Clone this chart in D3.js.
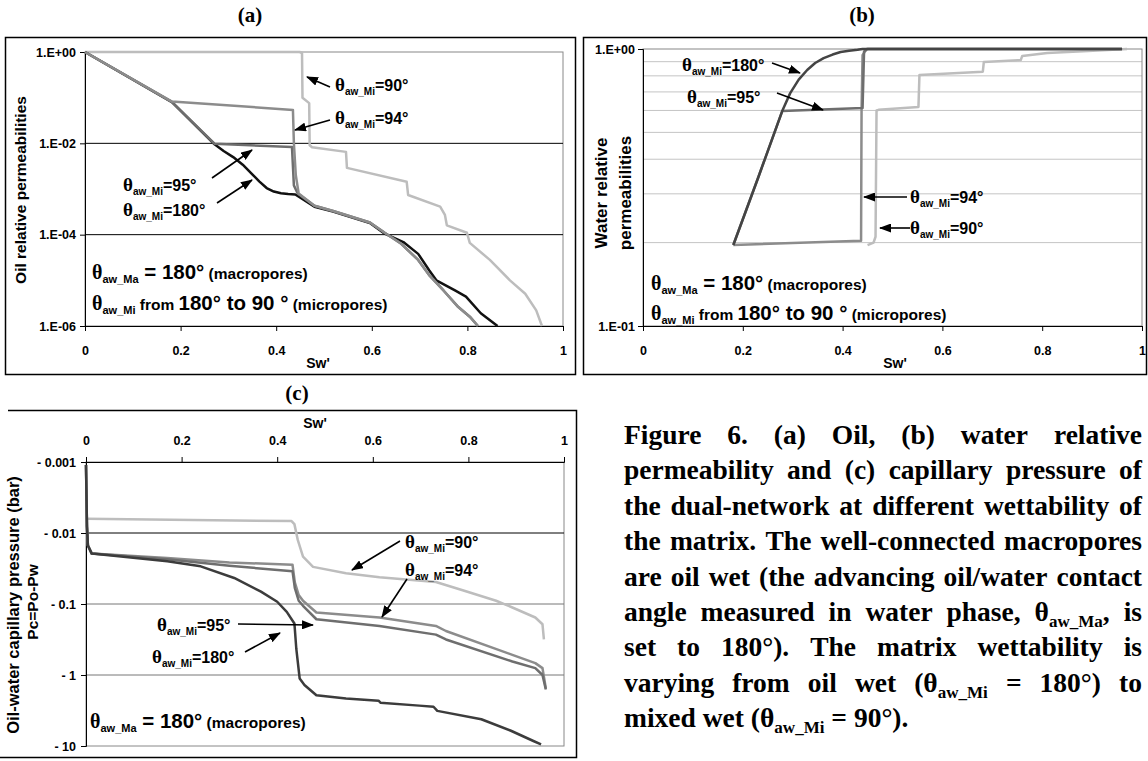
<!DOCTYPE html>
<html>
<head>
<meta charset="utf-8">
<script src="https://cdn.jsdelivr.net/npm/d3@7"></script>
<style>
body { margin: 0; background: #fff; }
</style>
</head>
<body>
<svg id="fig" width="1148" height="761" font-family="Liberation Sans, Arial, sans-serif" font-weight="bold"></svg>
<script>
// ---- data ----
var swTicks = [0, 0.2, 0.4, 0.6, 0.8, 1];
var swTickLabels = ['0', '0.2', '0.4', '0.6', '0.8', '1'];

// (a) oil relative permeability  [Sw', kro]
var kroTicks = [1, 1e-2, 1e-4, 1e-6];
var kroTickLabels = ['1.E+00', '1.E-02', '1.E-04', '1.E-06'];
var kro90 = [[0,1],[0.449,1],[0.454,0.95],[0.455,0.1],[0.469,7.6e-2],[0.470,9.1e-3],[0.475,8.2e-3],[0.546,6.5e-3],[0.548,2.9e-3],[0.673,1.44e-3],[0.676,7.4e-4],[0.743,4.1e-4],[0.753,2.7e-4],[0.757,1.6e-4],[0.799,1.1e-4],[0.805,6.6e-5],[0.847,2.8e-5],[0.889,1.0e-5],[0.921,5.1e-6],[0.944,2.2e-6],[0.956,1.0e-6]];
var kro180 = [[0,1],[0.182,8.0e-2],[0.271,9.5e-3],[0.29,6.8e-3],[0.31,5.0e-3],[0.33,3.4e-3],[0.35,2.1e-3],[0.365,1.45e-3],[0.38,1.05e-3],[0.395,8.8e-4],[0.41,8.1e-4],[0.425,7.8e-4],[0.44,7.6e-4],[0.48,4.1e-4],[0.519,3.2e-4],[0.596,1.8e-4],[0.627,1.05e-4],[0.666,6.9e-5],[0.697,3.8e-5],[0.72,1.66e-5],[0.735,1.0e-5],[0.774,6.0e-6],[0.797,4.4e-6],[0.828,1.9e-6],[0.863,1.0e-6]];
var kro95 = [[0,1],[0.182,8.0e-2],[0.271,9.8e-3],[0.433,8.3e-3],[0.437,1.2e-3],[0.445,8.0e-4],[0.48,4.3e-4],[0.519,3.3e-4],[0.596,1.85e-4],[0.627,1.1e-4],[0.66,6.5e-5],[0.697,2.8e-5],[0.72,1.3e-5],[0.75,6.0e-6],[0.781,2.6e-6],[0.805,1.6e-6],[0.822,1.0e-6]];
var kro94 = [[0,1],[0.182,8.2e-2],[0.435,5.4e-2],[0.437,1.0e-2],[0.441,2.0e-3],[0.447,8.0e-4],[0.48,4.3e-4],[0.519,3.3e-4],[0.596,1.85e-4],[0.627,1.1e-4],[0.66,6.5e-5],[0.697,2.8e-5],[0.72,1.3e-5],[0.75,6.0e-6],[0.781,2.6e-6],[0.805,1.6e-6],[0.822,1.0e-6]];

// (b) water relative permeability  [Sw', krw]
var krwTicks = [1, 0.1];
var krwTickLabels = ['1.E+00', '1.E-01'];
var krwGrid = [0.2, 0.3, 0.4, 0.5, 0.6, 0.7, 0.8, 0.9];
var krw90 = [[0.45,0.196],[0.462,0.2],[0.466,0.21],[0.468,0.6],[0.472,0.603],[0.552,0.618],[0.554,0.805],[0.681,0.828],[0.683,0.897],[0.757,0.912],[0.76,0.944],[0.81,0.968],[0.882,0.982],[0.97,1.0]];
var krw94 = [[0.181,0.196],[0.437,0.203],[0.438,0.6],[0.44,0.95],[0.448,1],[0.96,1]];
var krw95 = [[0.181,0.196],[0.23,0.34],[0.279,0.597],[0.44,0.612],[0.443,0.98],[0.45,1],[0.96,1]];
var krw180 = [[0.181,0.196],[0.23,0.34],[0.279,0.597],[0.295,0.693],[0.312,0.775],[0.329,0.84],[0.345,0.89],[0.362,0.927],[0.38,0.955],[0.396,0.975],[0.413,0.985],[0.43,0.993],[0.44,1],[0.96,1]];

// (c) capillary pressure  [Sw', Pc (bar)]
var pcTicks = [0.001, 0.01, 0.1, 1, 10];   // magnitudes of -Pc on the log axis
var pcTickLabels = ['- 0.001', '- 0.01', '- 0.1', '- 1', '- 10'];
var pc90 = [[0,-0.0063],[0.43,-0.0068],[0.436,-0.0075],[0.443,-0.0125],[0.454,-0.0215],[0.475,-0.030],[0.544,-0.037],[0.614,-0.042],[0.732,-0.049],[0.788,-0.064],[0.858,-0.09],[0.892,-0.112],[0.94,-0.155],[0.955,-0.193],[0.958,-0.316]];
var pc94 = [[0,-0.0011],[0.002,-0.008],[0.004,-0.015],[0.012,-0.0195],[0.17,-0.0225],[0.30,-0.026],[0.432,-0.028],[0.437,-0.05],[0.445,-0.075],[0.454,-0.09],[0.482,-0.132],[0.614,-0.155],[0.732,-0.204],[0.753,-0.24],[0.892,-0.52],[0.94,-0.68],[0.955,-0.80],[0.962,-1.55]];
var pc95 = [[0,-0.0011],[0.002,-0.008],[0.004,-0.015],[0.012,-0.0195],[0.17,-0.0235],[0.30,-0.029],[0.432,-0.0345],[0.437,-0.06],[0.445,-0.09],[0.454,-0.106],[0.482,-0.164],[0.614,-0.204],[0.732,-0.27],[0.753,-0.316],[0.892,-0.645],[0.94,-0.80],[0.955,-1.0],[0.962,-1.6]];
var pc180 = [[0,-0.0011],[0.002,-0.008],[0.004,-0.015],[0.012,-0.0195],[0.17,-0.025],[0.24,-0.0295],[0.31,-0.043],[0.366,-0.067],[0.40,-0.093],[0.42,-0.129],[0.436,-0.188],[0.44,-0.43],[0.447,-1.12],[0.457,-1.38],[0.482,-1.93],[0.544,-2.15],[0.612,-2.3],[0.616,-2.45],[0.697,-2.7],[0.727,-2.8],[0.735,-3.2],[0.827,-4.2],[0.889,-6.1],[0.936,-8.5],[0.952,-9.5]];

var captionLines = [
    'Figure 6. (a) Oil, (b) water relative',
    'permeability and (c) capillary pressure of',
    'the dual-network at different wettability of',
    'the matrix. The well-connected macropores',
    'are oil wet (the advancing oil/water contact',
    'angle measured in water phase, θ{aw_Ma}, is',
    'set to 180°). The matrix wettability is',
    'varying from oil wet (θ{aw_Mi} = 180°) to',
    'mixed wet (θ{aw_Mi} = 90°).'
];

var serif = '"Liberation Serif", "Times New Roman", serif';
var sans = '"Liberation Sans", Arial, sans-serif';

var svg = d3.select('#fig');

var defs = svg.append('defs');
defs.append('marker')
    .attr('id', 'arrow')
    .attr('markerUnits', 'userSpaceOnUse')
    .attr('viewBox', '0 0 12 9')
    .attr('markerWidth', 12)
    .attr('markerHeight', 9)
    .attr('refX', 11)
    .attr('refY', 4.5)
    .attr('orient', 'auto')
    .append('path')
    .attr('d', 'M0,0 L12,4.5 L0,9 Z')
    .attr('fill', '#000');

// helpers
function styleAxis(g) {
    g.attr('font-family', null).attr('font-size', null);
    g.select('.domain').attr('stroke', '#000').attr('stroke-width', 1);
    g.selectAll('.tick line').attr('stroke', '#000');
    g.selectAll('.tick text').style('font-size', '12.5px').style('font-family', sans).style('font-weight', 'bold').attr('fill', '#000');
}

function drawSeries(g, data, x, y, color) {
    var line = d3.line()
        .x(function(d){ return x(d[0]); })
        .y(function(d){ return y(d[1]); });
    g.append('path')
        .datum(data)
        .attr('d', line)
        .attr('fill', 'none')
        .attr('stroke', color)
        .attr('stroke-width', 2.5)
        .attr('stroke-linejoin', 'round');
}

// theta label: θ + subscript + rest parts [[text, size], ...]
function thetaText(g, x, y, sub, rest, thSize, subSize) {
    var t = g.append('text').attr('x', x).attr('y', y);
    t.append('tspan').style('font-family', serif).style('font-size', thSize + 'px').text('θ');
    t.append('tspan').style('font-size', subSize + 'px').attr('dy', 4).text(sub);
    rest.forEach(function(r, i){
        var ts = t.append('tspan').style('font-size', r[1] + 'px').text(r[0]);
        if (i == 0) ts.attr('dy', -4);
    });
    return t;
}

function arrow(g, x1, y1, x2, y2) {
    g.append('line')
        .attr('x1', x1).attr('y1', y1).attr('x2', x2).attr('y2', y2)
        .attr('stroke', '#000').attr('stroke-width', 1.6)
        .attr('marker-end', 'url(#arrow)');
}

function miLabel(g, x, y, deg) {
    return thetaText(g, x, y, 'aw_Mi', [['=' + deg + '°', 16]], 19, 10);
}

function panelTitle(x, y, s) {
    svg.append('text').attr('x', x).attr('y', y)
        .attr('text-anchor', 'middle')
        .style('font-family', serif)
        .style('font-size', '21px')
        .text(s);
}

function label(g, x, y, s, size, rot) {
    var t = g.append('text').attr('text-anchor', 'middle').style('font-size', size + 'px').text(s);
    if (rot) t.attr('transform', 'translate(' + x + ',' + y + ') rotate(-90)');
    else t.attr('x', x).attr('y', y);
    return t;
}

// ================= (a) =================
panelTitle(250, 22, '(a)');
svg.append('rect').attr('x', 5.5).attr('y', 37.5).attr('width', 570).attr('height', 337)
    .attr('fill', 'none').attr('stroke', '#000').attr('stroke-width', 1.5);

var gA = svg.append('g');
var xA = d3.scaleLinear().domain([0, 1]).range([85, 563]);
var yA = d3.scaleLog().domain([1e-6, 1]).range([326, 52]);

// plot frame + grid
gA.append('rect').attr('x', xA(0)).attr('y', yA(1)).attr('width', xA(1) - xA(0)).attr('height', yA(1e-6) - yA(1))
    .attr('fill', 'none').attr('stroke', '#888').attr('stroke-width', 1);
gA.selectAll('.grid').data([1e-2, 1e-4]).enter().append('line')
    .attr('x1', xA(0)).attr('x2', xA(1))
    .attr('y1', function(d){ return yA(d); }).attr('y2', function(d){ return yA(d); })
    .attr('stroke', '#000').attr('stroke-width', 1);

gA.append('g').attr('transform', 'translate(0,' + yA(1e-6) + ')')
    .call(d3.axisBottom(xA).tickValues(swTicks).tickFormat(function(d, i){ return swTickLabels[i]; }).tickSizeOuter(0).tickSize(5).tickPadding(15))
    .call(styleAxis);
gA.append('g').attr('transform', 'translate(' + xA(0) + ',0)')
    .call(d3.axisLeft(yA).tickValues(kroTicks).tickFormat(function(d, i){ return kroTickLabels[i]; }).tickSizeOuter(0).tickSize(5).tickPadding(4))
    .call(styleAxis);

label(gA, 318, 368, "Sw'", 14);
label(gA, 26, 190, 'Oil relative permeabilities', 15.5, true);

drawSeries(gA, kro90, xA, yA, '#bdbdbd');
drawSeries(gA, kro180, xA, yA, '#111');
drawSeries(gA, kro95, xA, yA, '#6e6e6e');
drawSeries(gA, kro94, xA, yA, '#8c8c8c');

miLabel(gA, 335, 91, 90);  arrow(gA, 330, 87, 307, 77);
miLabel(gA, 335, 124, 94); arrow(gA, 330, 120, 295, 130);
miLabel(gA, 123, 191, 95); arrow(gA, 212, 178, 252, 150);
miLabel(gA, 123, 216, 180); arrow(gA, 217, 203, 252, 180);

thetaText(gA, 92, 279, 'aw_Ma', [[' = 180°', 20.5], [' (macropores)', 15.5]], 20, 11);
thetaText(gA, 92, 310, 'aw_Mi', [[' from ', 15.5], ['180° to 90 °', 20.5], [' (micropores)', 15.5]], 20, 11);

// ================= (b) =================
panelTitle(862, 22, '(b)');
svg.append('rect').attr('x', 583.5).attr('y', 37.5).attr('width', 563).attr('height', 337)
    .attr('fill', 'none').attr('stroke', '#000').attr('stroke-width', 1.5);

var gB = svg.append('g');
var xB = d3.scaleLinear().domain([0, 1]).range([643, 1142]);
var yB = d3.scaleLog().domain([0.1, 1]).range([326, 49]);

gB.selectAll('.grid').data(krwGrid).enter().append('line')
    .attr('x1', xB(0)).attr('x2', xB(1))
    .attr('y1', function(d){ return yB(d); }).attr('y2', function(d){ return yB(d); })
    .attr('stroke', '#c4c4c4').attr('stroke-width', 1);
gB.append('rect').attr('x', xB(0)).attr('y', yB(1)).attr('width', xB(1) - xB(0)).attr('height', yB(0.1) - yB(1))
    .attr('fill', 'none').attr('stroke', '#888').attr('stroke-width', 1);

gB.append('g').attr('transform', 'translate(0,' + yB(0.1) + ')')
    .call(d3.axisBottom(xB).tickValues(swTicks).tickFormat(function(d, i){ return swTickLabels[i]; }).tickSizeOuter(0).tickSize(5).tickPadding(15))
    .call(styleAxis);
gB.append('g').attr('transform', 'translate(' + xB(0) + ',0)')
    .call(d3.axisLeft(yB).tickValues(krwTicks).tickFormat(function(d, i){ return krwTickLabels[i]; }).tickSizeOuter(0).tickSize(5).tickPadding(3))
    .call(styleAxis);

label(gB, 895, 368, "Sw'", 14);
label(gB, 607, 193, 'Water relative', 17, true);
label(gB, 631, 193, 'permeabilities', 17, true);

drawSeries(gB, krw90, xB, yB, '#bdbdbd');
drawSeries(gB, krw94, xB, yB, '#8c8c8c');
drawSeries(gB, krw95, xB, yB, '#6e6e6e');
drawSeries(gB, krw180, xB, yB, '#444');

miLabel(gB, 682, 71, 180); arrow(gB, 772, 63, 800, 73);
miLabel(gB, 687, 103, 95); arrow(gB, 777, 93, 823, 110);
miLabel(gB, 910, 203, 94); arrow(gB, 907, 197, 864, 197);
miLabel(gB, 910, 234, 90); arrow(gB, 910, 228, 880, 228);

thetaText(gB, 651, 290, 'aw_Ma', [[' = 180°', 20.5], [' (macropores)', 15.5]], 20, 11);
thetaText(gB, 651, 320, 'aw_Mi', [[' from ', 15.5], ['180° to 90 °', 20.5], [' (micropores)', 15.5]], 20, 11);

// ================= (c) =================
panelTitle(297, 400, '(c)');
svg.append('path').attr('d', 'M8,410.5 H576.5 V757.5 H-2')
    .attr('fill', 'none').attr('stroke', '#000').attr('stroke-width', 1.5);

var gC = svg.append('g');
var xC = d3.scaleLinear().domain([0, 1]).range([86, 564]);
var yC = d3.scaleLog().domain([0.001, 10]).range([462, 746]);   // |Pc|, drawn downward
function yPc(v) { return yC(-v); }

gC.append('rect').attr('x', xC(0)).attr('y', yC(0.001)).attr('width', xC(1) - xC(0)).attr('height', yC(10) - yC(0.001))
    .attr('fill', 'none').attr('stroke', '#888').attr('stroke-width', 1);
gC.selectAll('.grid').data([0.01, 0.1, 1]).enter().append('line')
    .attr('x1', xC(0)).attr('x2', xC(1))
    .attr('y1', function(d){ return yC(d); }).attr('y2', function(d){ return yC(d); })
    .attr('stroke', function(d){ return d == 0.01 ? '#000' : '#777'; }).attr('stroke-width', 1);

gC.append('g').attr('transform', 'translate(0,' + yC(0.001) + ')')
    .call(d3.axisTop(xC).tickValues(swTicks).tickFormat(function(d, i){ return swTickLabels[i]; }).tickSizeOuter(0).tickSize(5).tickPadding(12))
    .call(styleAxis);
gC.append('g').attr('transform', 'translate(' + xC(0) + ',0)')
    .call(d3.axisLeft(yC).tickValues(pcTicks).tickFormat(function(d, i){ return pcTickLabels[i]; }).tickSizeOuter(0).tickSize(5).tickPadding(5))
    .call(styleAxis);

label(gC, 315, 428, "Sw'", 14);
label(gC, 19, 605, 'Oil-water capillary pressure (bar)', 16.5, true);
label(gC, 38, 602, 'Pc=Po-Pw', 15.5, true);

drawSeries(gC, pc90, xC, yPc, '#bdbdbd');
drawSeries(gC, pc94, xC, yPc, '#8c8c8c');
drawSeries(gC, pc95, xC, yPc, '#6e6e6e');
drawSeries(gC, pc180, xC, yPc, '#3c3c3c');

miLabel(gC, 157, 631, 95);  arrow(gC, 238, 624, 313, 625);
miLabel(gC, 152, 663, 180); arrow(gC, 245, 652, 280, 633);
miLabel(gC, 405, 548, 90);  arrow(gC, 400, 541, 352, 570);
miLabel(gC, 405, 576, 94);  arrow(gC, 407, 579, 382, 617);

thetaText(gC, 90, 728, 'aw_Ma', [[' = 180°', 20.5], [' (macropores)', 15.5]], 20, 11);

// ================= caption =================
var capX0 = 624, capX1 = 1142, capY0 = 444, capDy = 35.4, capSize = 27.5;
var gCap = svg.append('g');

captionLines.forEach(function(line, li){
    var words = line.split(' ');
    var y = capY0 + li * capDy;
    var items = words.map(function(w){
        var t = gCap.append('text').attr('y', y)
            .style('font-family', serif)
            .style('font-size', capSize + 'px');
        var parts = w.split(/\{([^}]*)\}/);
        parts.forEach(function(p, pi){
            if (p === '') return;
            var ts = t.append('tspan').text(p);
            if (pi % 2 == 1) {
                ts.style('font-size', (capSize * 0.62) + 'px').attr('dy', 6);
            } else if (pi > 0) {
                ts.attr('dy', -6);
            }
        });
        return { t: t, w: t.node().getComputedTextLength() };
    });
    var total = d3.sum(items, function(d){ return d.w; });
    var gap = (li < captionLines.length - 1) ? (capX1 - capX0 - total) / (words.length - 1) : capSize * 0.25;
    var xx = capX0;
    items.forEach(function(it){
        it.t.attr('x', xx);
        xx += it.w + gap;
    });
});
</script>
</body>
</html>
